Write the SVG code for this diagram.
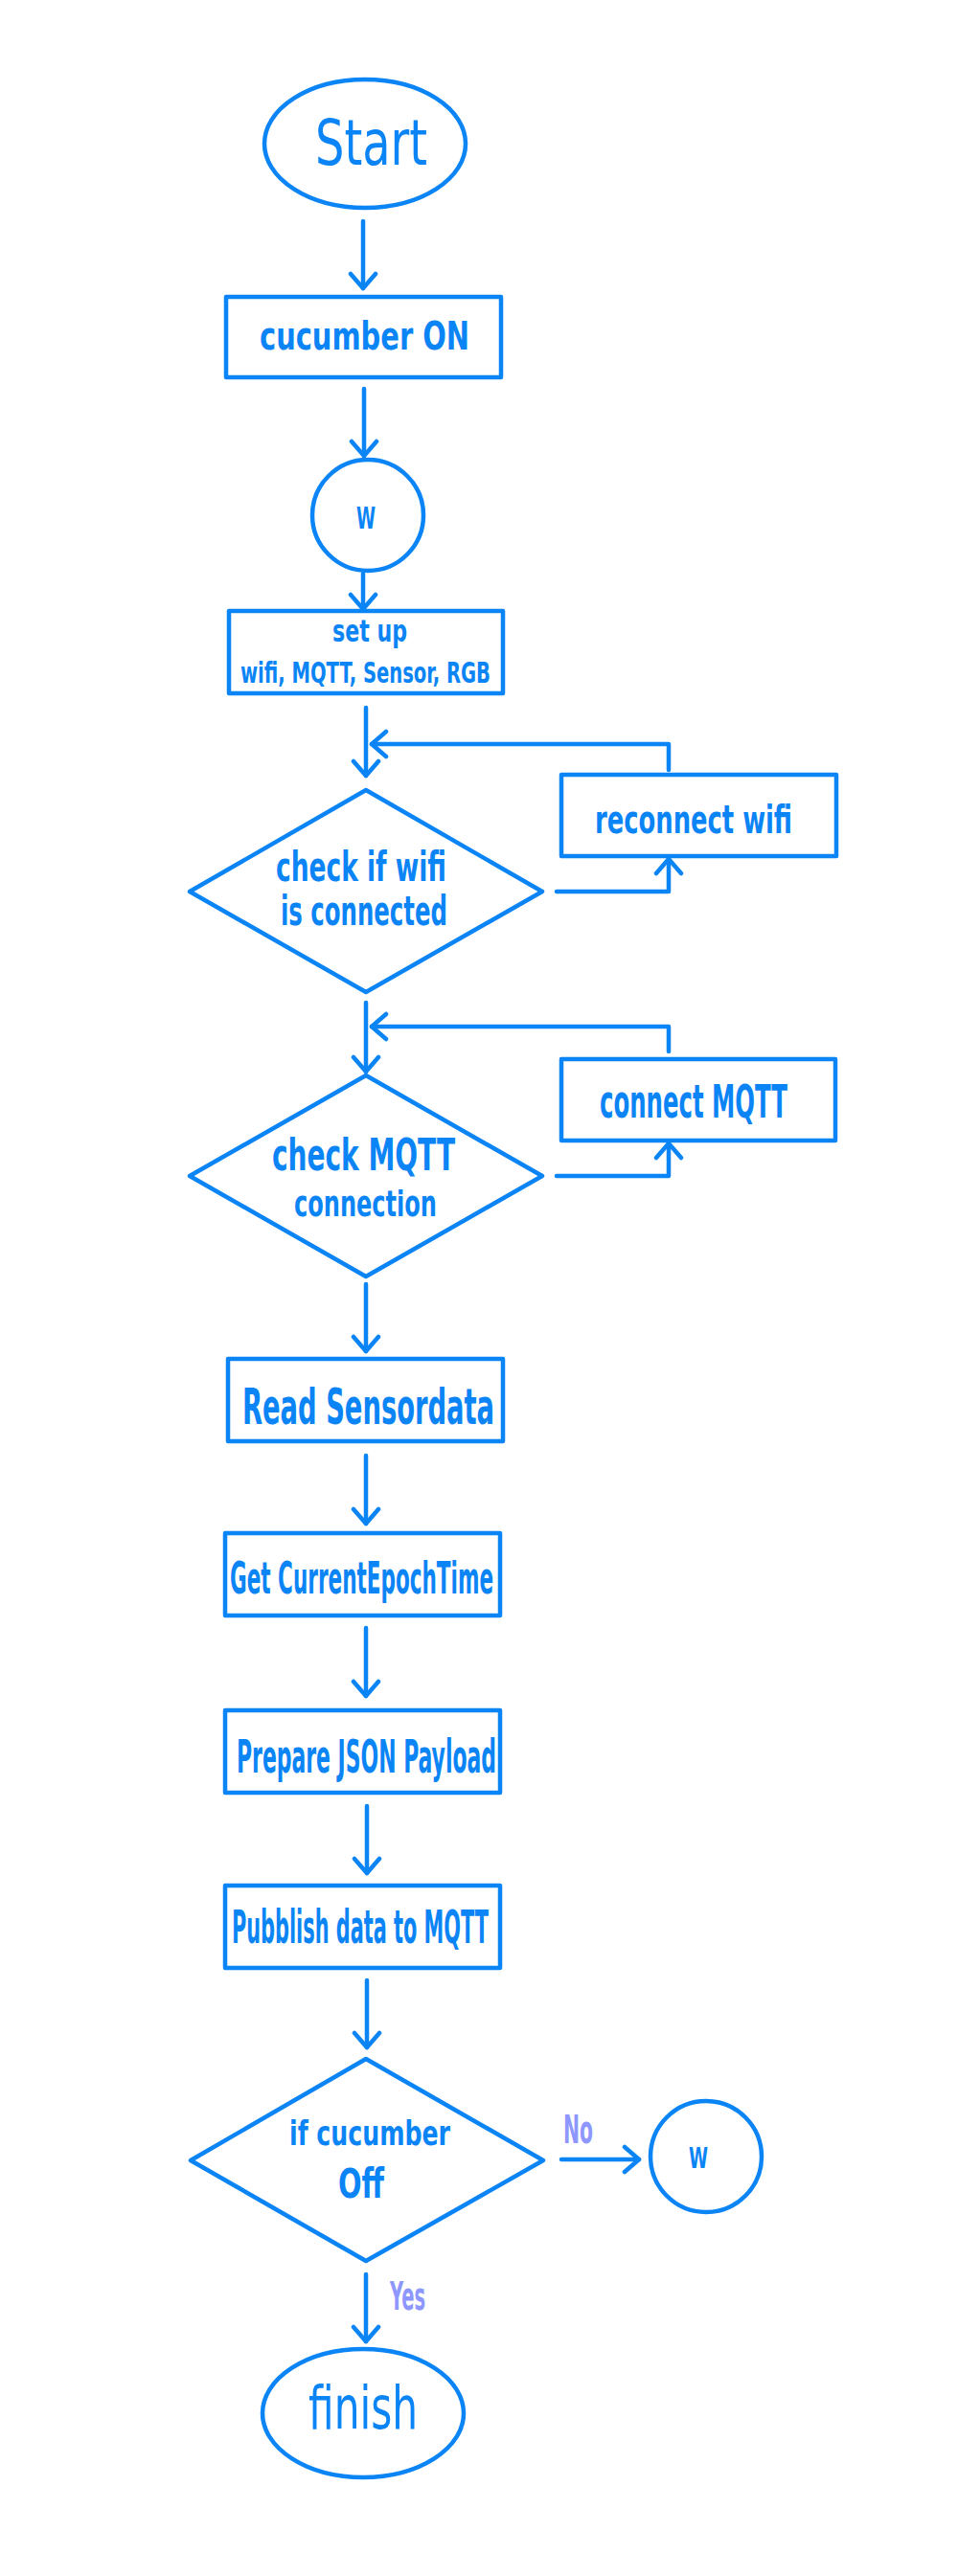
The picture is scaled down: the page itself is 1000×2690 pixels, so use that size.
<svg xmlns="http://www.w3.org/2000/svg" width="1000" height="2690" viewBox="0 0 1000 2690">
<style>
.s{fill:none;stroke:#0b84f5;stroke-width:4.5;stroke-linejoin:round;stroke-linecap:round}
.t{fill:#0b84f5;font-family:"DejaVu Sans Condensed","DejaVu Sans","Liberation Sans",sans-serif;font-weight:bold}
.l{fill:#8e97fe;font-family:"DejaVu Sans Condensed","DejaVu Sans","Liberation Sans",sans-serif;font-weight:bold}
.n{font-weight:normal}
</style>
<defs>
<marker id="ah" markerUnits="userSpaceOnUse" viewBox="-18 -16 22 32" refX="0" refY="0" markerWidth="22" markerHeight="32" orient="auto">
<path d="M-15,-13 L0,0 L-15,13" fill="none" stroke="#0b84f5" stroke-width="4.5" stroke-linecap="round" stroke-linejoin="round"/>
</marker>
</defs>
<rect width="1000" height="2690" fill="#ffffff"/>
<g id="connectors" class="s" marker-end="url(#ah)">
<path d="M379,231 V301"/>
<path d="M380,406 V476"/>
<path d="M379,599 V636"/>
<path d="M382,739 V810"/>
<path d="M698,804 V777 H388"/>
<path d="M581,931 H698 V897"/>
<path d="M382,1047 V1119"/>
<path d="M698,1098 V1072 H388"/>
<path d="M581,1228 H698 V1194"/>
<path d="M382,1341 V1411"/>
<path d="M382,1520 V1591"/>
<path d="M382,1700 V1771"/>
<path d="M383,1886 V1956"/>
<path d="M383,2068 V2138"/>
<path d="M586,2255 H667"/>
<path d="M382,2375 V2445"/>
</g>
<g id="start"><ellipse class="s" cx="381" cy="150" rx="105" ry="67"/><text class="t n" x="329" y="172" font-size="66" textLength="117" lengthAdjust="spacingAndGlyphs">Start</text></g>
<g id="cucumber-on"><rect class="s" x="236" y="310" width="287" height="84"/><text class="t" x="271" y="365" font-size="40" textLength="219" lengthAdjust="spacingAndGlyphs">cucumber ON</text></g>
<g id="w1"><circle class="s" cx="384" cy="538" r="58"/><text class="t" x="372" y="552" font-size="32" textLength="20" lengthAdjust="spacingAndGlyphs">W</text></g>
<g id="setup"><rect class="s" x="239" y="638" width="286" height="86"/><text class="t" x="347" y="670" font-size="32" textLength="78" lengthAdjust="spacingAndGlyphs">set up</text><text class="t" x="251" y="713" font-size="30" textLength="261" lengthAdjust="spacingAndGlyphs">wifi, MQTT, Sensor, RGB</text></g>
<g id="check-wifi"><polygon class="s" points="382,825 566,931 382,1036 198,931"/><text class="t" x="288" y="920" font-size="42" textLength="178" lengthAdjust="spacingAndGlyphs">check if wifi</text><text class="t" x="293" y="966" font-size="42" textLength="174" lengthAdjust="spacingAndGlyphs">is connected</text></g>
<g id="reconnect-wifi"><rect class="s" x="586" y="809" width="287" height="85"/><text class="t" x="621" y="870" font-size="40" textLength="206" lengthAdjust="spacingAndGlyphs">reconnect wifi</text></g>
<g id="check-mqtt"><polygon class="s" points="382,1123 566,1228 382,1333 198,1228"/><text class="t" x="284" y="1222" font-size="46" textLength="191" lengthAdjust="spacingAndGlyphs">check MQTT</text><text class="t" x="307" y="1270" font-size="38" textLength="149" lengthAdjust="spacingAndGlyphs">connection</text></g>
<g id="connect-mqtt"><rect class="s" x="586" y="1106" width="286" height="85"/><text class="t" x="626" y="1167" font-size="48" textLength="196" lengthAdjust="spacingAndGlyphs">connect MQTT</text></g>
<g id="read-sensor"><rect class="s" x="238" y="1419" width="287" height="86"/><text class="t" x="253" y="1487" font-size="52" textLength="263" lengthAdjust="spacingAndGlyphs">Read Sensordata</text></g>
<g id="get-time"><rect class="s" x="235" y="1601" width="287" height="86"/><text class="t" x="240" y="1664" font-size="46" textLength="275" lengthAdjust="spacingAndGlyphs">Get CurrentEpochTime</text></g>
<g id="prepare-json"><rect class="s" x="235" y="1786" width="287" height="86"/><text class="t" x="247" y="1851" font-size="48" textLength="271" lengthAdjust="spacingAndGlyphs">Prepare JSON Payload</text></g>
<g id="publish"><rect class="s" x="235" y="1969" width="287" height="86"/><text class="t" x="242" y="2029" font-size="48" textLength="268" lengthAdjust="spacingAndGlyphs">Pubblish data to MQTT</text></g>
<g id="check-off"><polygon class="s" points="382,2150 567,2256 382,2361 199,2256"/><text class="t" x="302" y="2240" font-size="36" textLength="168" lengthAdjust="spacingAndGlyphs">if cucumber</text><text class="t" x="353" y="2295" font-size="42" textLength="48" lengthAdjust="spacingAndGlyphs">Off</text></g>
<g id="w2"><circle class="s" cx="737" cy="2252" r="58"/><text class="t" x="719" y="2264" font-size="30" textLength="20" lengthAdjust="spacingAndGlyphs">W</text></g>
<g id="finish"><ellipse class="s" cx="379" cy="2520" rx="105" ry="67"/><text class="t n" x="322" y="2536" font-size="62" textLength="114" lengthAdjust="spacingAndGlyphs">finish</text></g>
<g id="labels"><text class="l" x="588" y="2238" font-size="40" textLength="31" lengthAdjust="spacingAndGlyphs">No</text><text class="l" x="407" y="2412" font-size="40" textLength="37" lengthAdjust="spacingAndGlyphs">Yes</text></g>
</svg>
